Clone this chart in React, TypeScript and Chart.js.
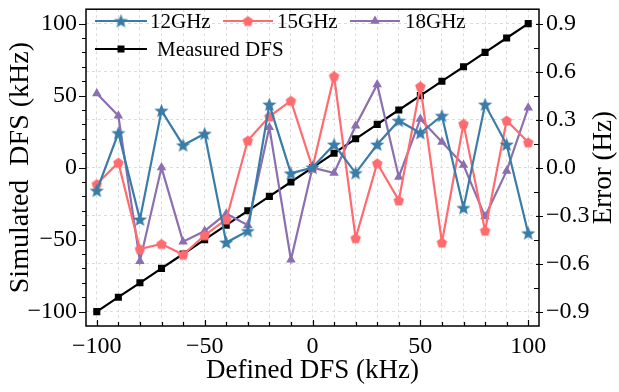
import React, { useEffect, useRef } from 'react';
import { Chart, registerables } from 'chart.js';

Chart.register(...registerables);

// ---------- data ----------
const definedDFS = [-100, -90, -80, -70, -60, -50, -40, -30, -20, -10, 0, 10, 20, 30, 40, 50, 60, 70, 80, 90, 100];
const measuredDFS = [-100, -90, -80, -70, -60, -50, -40, -30, -20, -10, 0, 10, 20, 30, 40, 50, 60, 70, 80, 90, 100];
const error12GHz = [-0.144, 0.216, -0.324, 0.356, 0.14, 0.212, -0.468, -0.396, 0.394, -0.036, 0, 0.144, -0.034, 0.144, 0.293, 0.216, 0.324, -0.252, 0.394, 0.144, -0.41];
const error15GHz = [-0.103, 0.031, -0.509, -0.477, -0.545, -0.423, -0.324, 0.169, 0.319, 0.418, 0, 0.572, -0.441, 0.027, -0.205, 0.508, -0.468, 0.274, -0.394, 0.294, 0.158];
const error18GHz = [0.463, 0.324, -0.585, 0, -0.463, -0.396, -0.288, -0.36, 0.252, -0.576, 0, -0.034, 0.261, 0.52, -0.058, 0.304, 0.16, 0.016, -0.306, -0.021, 0.374];

const xGridTicks = [-100, -90, -80, -70, -60, -50, -40, -30, -20, -10, 0, 10, 20, 30, 40, 50, 60, 70, 80, 90, 100];
const xTickLabels = [-100, -50, 0, 50, 100];
const leftMinorTicks = [-100, -90, -80, -70, -60, -50, -40, -30, -20, -10, 0, 10, 20, 30, 40, 50, 60, 70, 80, 90, 100];
const leftTickLabels = [-100, -50, 0, 50, 100];
const rightGridTicks = [-0.9, -0.75, -0.6, -0.45, -0.3, -0.15, 0, 0.15, 0.3, 0.45, 0.6, 0.75, 0.9];
const rightTickLabels = [-0.9, -0.6, -0.3, 0, 0.3, 0.6, 0.9];

const seriesNames = ['12GHz', '15GHz', '18GHz', 'Measured DFS'];
const xTitle = 'Defined DFS (kHz)';
const yTitle = 'Simulated  DFS (kHz)';
const y1Title = 'Error (Hz)';

// ---------- style ----------
const FONT = "'Liberation Serif', 'Times New Roman', serif";
const BLUE = '#3a7ca8';
const RED = '#ff6b6e';
const PURPLE = '#8b6fb0';
const BLACK = '#000000';
const TICK_SIZE = 24;
const TITLE_SIZE = 27;
const YTITLE_SIZE = 28;
const LEGEND_SIZE = 21;

const minus = (s: string) => s.replace('-', '\u2212');
const has = (arr: number[], v: number) => arr.some((a) => Math.abs(a - v) < 1e-6);

function makeStar(color: string, outer: number, inner: number) {
  const size = Math.ceil(outer * 2 + 2);
  const c = document.createElement('canvas');
  c.width = size;
  c.height = size;
  const ctx = c.getContext('2d')!;
  const cx = size / 2;
  const cy = size / 2 + 0.5;
  ctx.beginPath();
  for (let i = 0; i < 10; i++) {
    const r = i % 2 === 0 ? outer : inner;
    const a = -Math.PI / 2 + (i * Math.PI) / 5;
    const px = cx + r * Math.cos(a);
    const py = cy + r * Math.sin(a);
    if (i === 0) ctx.moveTo(px, py);
    else ctx.lineTo(px, py);
  }
  ctx.closePath();
  ctx.fillStyle = color;
  ctx.fill();
  return c;
}

function makePentagon(color: string, r: number) {
  const size = Math.ceil(r * 2 + 2);
  const c = document.createElement('canvas');
  c.width = size;
  c.height = size;
  const ctx = c.getContext('2d')!;
  const cx = size / 2;
  const cy = size / 2 + 0.5;
  ctx.beginPath();
  for (let i = 0; i < 5; i++) {
    const a = -Math.PI / 2 + (i * 2 * Math.PI) / 5;
    const px = cx + r * Math.cos(a);
    const py = cy + r * Math.sin(a);
    if (i === 0) ctx.moveTo(px, py);
    else ctx.lineTo(px, py);
  }
  ctx.closePath();
  ctx.fillStyle = color;
  ctx.fill();
  return c;
}

const zeroPad = (s: any) => {
  s.paddingTop = 0;
  s.paddingBottom = 0;
  s.paddingLeft = 0;
  s.paddingRight = 0;
};

export default function App() {
  const ref = useRef<HTMLCanvasElement | null>(null);

  useEffect(() => {
    document.body.style.margin = '0';
    const canvas = ref.current!;
    const star = makeStar(BLUE, 7.5, 3.2);
    const pent = makePentagon(RED, 5.5);

    const toXY = (ys: number[]) => definedDFS.map((x, i) => ({ x, y: ys[i] }));

    const framePlugin = {
      id: 'frameTicks',
      afterDraw(chart: any) {
        const { ctx, chartArea: a, scales } = chart;
        const xs = scales.x;
        const ys = scales.y;
        const y1 = scales.y1;
        ctx.save();
        ctx.strokeStyle = '#000';
        ctx.lineWidth = 1.5;
        ctx.setLineDash([]);
        ctx.strokeRect(a.left, a.top, a.right - a.left, a.bottom - a.top);
        ctx.lineWidth = 1.2;
        ctx.beginPath();
        // bottom ticks (inward)
        xGridTicks.forEach((v) => {
          const px = Math.round(xs.getPixelForValue(v)) + 0.5;
          const len = has(xTickLabels, v) ? 6 : 4;
          ctx.moveTo(px, a.bottom);
          ctx.lineTo(px, a.bottom - len);
        });
        // left ticks (outward)
        leftMinorTicks.forEach((v) => {
          const py = Math.round(ys.getPixelForValue(v)) + 0.5;
          const len = has(leftTickLabels, v) ? 7 : 4;
          ctx.moveTo(a.left, py);
          ctx.lineTo(a.left - len, py);
        });
        // right ticks
        rightGridTicks.forEach((v) => {
          const py = Math.round(y1.getPixelForValue(v)) + 0.5;
          if (has(rightTickLabels, v)) {
            ctx.moveTo(a.right - 3, py);
            ctx.lineTo(a.right + 4, py);
          } else {
            ctx.moveTo(a.right, py);
            ctx.lineTo(a.right - 5, py);
          }
        });
        ctx.stroke();

        // axis titles
        ctx.fillStyle = '#000';
        ctx.textAlign = 'center';
        ctx.textBaseline = 'alphabetic';
        const cx = (a.left + a.right) / 2;
        const cy = (a.top + a.bottom) / 2;
        ctx.font = `${TITLE_SIZE}px ${FONT}`;
        ctx.fillText(xTitle, cx, 378);
        ctx.save();
        ctx.font = `${YTITLE_SIZE}px ${FONT}`;
        ctx.translate(28, cy);
        ctx.rotate(-Math.PI / 2);
        ctx.fillText(yTitle, 0, 0);
        ctx.restore();
        ctx.save();
        ctx.font = `${TITLE_SIZE}px ${FONT}`;
        ctx.translate(611, cy);
        ctx.rotate(-Math.PI / 2);
        ctx.fillText(y1Title, 0, 0);
        ctx.restore();
        ctx.restore();
      },
      afterDatasetsDraw(chart: any) {
        const { ctx } = chart;
        const items = [
          { label: seriesNames[0], color: BLUE, x: 95, y: 21, tx: 150, marker: 'star' },
          { label: seriesNames[1], color: RED, x: 223, y: 21, tx: 277, marker: 'pent' },
          { label: seriesNames[2], color: PURPLE, x: 350, y: 21, tx: 405, marker: 'tri' },
          { label: seriesNames[3], color: BLACK, x: 95, y: 49, tx: 157, marker: 'rect' },
        ];
        ctx.save();
        ctx.font = `${LEGEND_SIZE}px ${FONT}`;
        ctx.textBaseline = 'middle';
        ctx.textAlign = 'left';
        items.forEach((it) => {
          const len = it.marker === 'rect' || it.marker === 'star' ? 52 : 50;
          ctx.strokeStyle = it.color;
          ctx.lineWidth = 2.2;
          ctx.beginPath();
          ctx.moveTo(it.x, it.y);
          ctx.lineTo(it.x + len, it.y);
          ctx.stroke();
          const mx = it.x + len / 2;
          ctx.fillStyle = it.color;
          if (it.marker === 'star') ctx.drawImage(star, mx - star.width / 2, it.y - star.height / 2);
          else if (it.marker === 'pent') ctx.drawImage(pent, mx - pent.width / 2, it.y - pent.height / 2);
          else if (it.marker === 'tri') {
            const r = 5.5;
            ctx.beginPath();
            ctx.moveTo(mx, it.y - r);
            ctx.lineTo(mx + r * 0.866, it.y + r / 2);
            ctx.lineTo(mx - r * 0.866, it.y + r / 2);
            ctx.closePath();
            ctx.fill();
          } else {
            ctx.fillRect(mx - 3.5, it.y - 3.5, 7, 7);
          }
          ctx.fillStyle = '#000';
          ctx.fillText(it.label, it.tx, it.y + 1);
        });
        ctx.restore();
      },
    };

    const chart = new Chart(canvas, {
      type: 'line',
      data: {
        datasets: [
          {
            label: seriesNames[3],
            data: toXY(measuredDFS),
            yAxisID: 'y',
            borderColor: BLACK,
            backgroundColor: BLACK,
            borderWidth: 2.2,
            pointStyle: 'rect',
            pointRadius: 5,
            pointBorderWidth: 0,
            order: 4,
          },
          {
            label: seriesNames[0],
            data: toXY(error12GHz),
            yAxisID: 'y1',
            borderColor: BLUE,
            backgroundColor: BLUE,
            borderWidth: 2.2,
            pointStyle: star as any,
            pointRadius: 7,
            order: 1,
          },
          {
            label: seriesNames[1],
            data: toXY(error15GHz),
            yAxisID: 'y1',
            borderColor: RED,
            backgroundColor: RED,
            borderWidth: 2.2,
            pointStyle: pent as any,
            pointRadius: 6,
            order: 2,
          },
          {
            label: seriesNames[2],
            data: toXY(error18GHz),
            yAxisID: 'y1',
            borderColor: PURPLE,
            backgroundColor: PURPLE,
            borderWidth: 2.2,
            pointStyle: 'triangle',
            pointRadius: 5.5,
            pointBorderWidth: 0,
            order: 3,
          },
        ],
      },
      options: {
        animation: false,
        responsive: false,
        devicePixelRatio: 1,
        layout: { padding: { top: 6, left: 0, right: 0, bottom: 0 } },
        elements: { line: { tension: 0 } },
        plugins: { legend: { display: false }, tooltip: { enabled: false } },
        scales: {
          x: {
            type: 'linear',
            position: 'bottom',
            min: -105,
            max: 105,
            afterBuildTicks: (s: any) => {
              s.ticks = xGridTicks.map((v) => ({ value: v }));
            },
            afterFit: (s: any) => {
              s.height = 66;
              zeroPad(s);
            },
            ticks: {
              autoSkip: false,
              maxRotation: 0,
              padding: 6,
              color: '#000',
              font: { family: FONT, size: TICK_SIZE },
              callback: (v: any) => (has(xTickLabels, Number(v)) ? minus(String(v)) : ''),
            },
            grid: { color: '#dcdcdc', lineWidth: 1, drawTicks: false },
            border: { display: false, dash: [3, 3] },
          },
          y: {
            type: 'linear',
            position: 'left',
            min: -110,
            max: 110,
            afterBuildTicks: (s: any) => {
              s.ticks = leftTickLabels.map((v) => ({ value: v }));
            },
            afterFit: (s: any) => {
              s.width = 86;
              zeroPad(s);
            },
            ticks: {
              padding: 9,
              color: '#000',
              font: { family: FONT, size: TICK_SIZE },
              callback: (v: any) => minus(String(v)),
            },
            grid: { display: false, drawTicks: false },
            border: { display: false },
          },
          y1: {
            type: 'linear',
            position: 'right',
            min: -0.99,
            max: 0.99,
            afterBuildTicks: (s: any) => {
              s.ticks = rightGridTicks.map((v) => ({ value: v }));
            },
            afterFit: (s: any) => {
              s.width = 80;
              zeroPad(s);
            },
            ticks: {
              padding: 7,
              color: '#000',
              font: { family: FONT, size: TICK_SIZE },
              callback: (v: any) => (has(rightTickLabels, Number(v)) ? minus(Number(v).toFixed(1)) : ''),
            },
            grid: { color: '#dcdcdc', lineWidth: 1, drawTicks: false },
            border: { display: false, dash: [3, 3] },
          },
        },
      },
      plugins: [framePlugin],
    });

    return () => chart.destroy();
  }, []);

  return (
    <div style={{ width: 619, height: 392, background: '#fff' }}>
      <canvas ref={ref} width={619} height={392} style={{ display: 'block', width: 619, height: 392 }} />
    </div>
  );
}
